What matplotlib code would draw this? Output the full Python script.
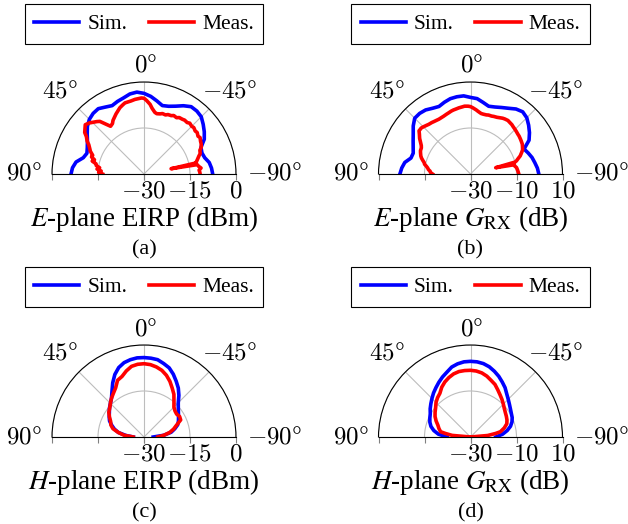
import numpy as np
import matplotlib
matplotlib.use("Agg")
import matplotlib.pyplot as plt

plt.rcParams["font.family"] = ["Liberation Serif", "DejaVu Serif"]
plt.rcParams["mathtext.fontset"] = "cm"

# angles in degrees (0 = broadside, +90 = left)
ang5 = [90, 85, 80, 75, 70, 65, 60, 55, 50, 45, 40, 35, 30, 25, 20, 15, 10, 5, 0,
        -5, -10, -15, -20, -25, -30, -35, -40, -45, -50, -55, -60, -65, -70, -75,
        -80, -85, -90]

# (a) E-plane EIRP (dBm)
a_sim = [-6.2, -6.6, -7.5, -9.5, -10.2, -9.6, -8.7, -7.4, -5.9, -4.8, -4.2, -4.0,
         -4.8, -5.4, -4.8, -4.3, -3.5, -3.2, -3.7, -4.6, -5.8, -6.9, -6.5, -5.6,
         -4.3, -3.2, -3.2, -3.6, -4.8, -6.0, -7.3, -9.5, -9.9, -9.5, -8.4, -7.9, -7.6]
a_meas_ang = [90, 88, 86, 84, 82, 80, 78, 76, 74, 72, 70, 67, 65, 62, 60, 57, 55, 52,
              50, 47, 45, 42, 40, 37, 35, 32, 30, 27, 25, 22, 20, 17, 15, 12, 10, 7,
              5, 2, 0, -2, -5, -7, -10, -12, -15, -17, -20, -22, -25, -27, -30, -32,
              -35, -37, -40, -42, -45, -47, -50, -52, -55, -57, -60, -62, -65, -67,
              -70, -72, -75, -77, -78, -79, -80, -82, -84, -86, -88, -90]
a_meas = [-16.5, -15.2, -16.0, -14.6, -15.4, -14.2, -14.0, -12.6, -13.2, -12.0, -12.2,
          -11.0, -10.5, -9.6, -8.6, -7.6, -6.4, -5.6, -5.0, -5.6, -6.2, -7.0, -7.6,
          -9.8, -11.0, -10.6, -9.8, -9.0, -8.4, -7.6, -7.0, -6.4, -6.0, -5.9, -5.8,
          -5.5, -5.4, -5.2, -5.3, -6.0, -7.2, -8.4, -9.6, -9.9, -9.7, -9.4, -9.5,
          -9.1, -9.0, -8.6, -8.8, -8.3, -8.2, -8.0, -8.1, -7.7, -8.0, -7.8, -8.2,
          -8.0, -8.5, -8.2, -8.7, -8.9, -9.4, -10.2, -10.5, -11.2, -12.0, -12.5,
          -12.6, -21.0, -12.4, -12.0, -11.3, -12.0, -11.8, -11.7]

# (b) E-plane G_RX (dB)
b_sim = [0.7, 0.0, -1.0, -3.2, -3.5, -2.5, -1.2, 0.4, 2.5, 4.3, 4.4, 4.0, 3.0, 2.4,
         3.2, 3.9, 4.1, 4.1, 3.3, 2.9, 1.6, 0.5, 1.0, 1.9, 3.0, 4.5, 5.3, 4.6, 3.0,
         1.3, -0.6, -4.3, -3.3, -2.3, -1.6, -0.8, -0.3]
b_meas_ang = [90, 88, 86, 84, 82, 80, 78, 76, 74, 72, 70, 67, 65, 62, 60, 57, 55, 52,
              50, 47, 45, 42, 40, 37, 35, 32, 30, 27, 25, 22, 20, 17, 15, 12, 10, 7,
              5, 2, 0, -2, -5, -7, -10, -12, -15, -17, -20, -22, -25, -27, -30, -32,
              -35, -37, -40, -42, -45, -47, -50, -52, -55, -57, -60, -62, -65, -67,
              -70, -72, -74, -75, -76, -78, -80, -82, -84, -86, -88, -90]
b_meas = [-13.5, -12.6, -12.4, -11.6, -11.2, -10.5, -9.6, -9.2, -8.4, -7.6, -7.0,
          -6.4, -6.0, -5.8, -5.3, -4.0, -3.0, -1.8, -0.8, -0.7, -1.0, -1.5, -1.8,
          -2.0, -2.2, -2.4, -2.5, -2.4, -2.3, -2.0, -1.8, -1.4, -1.2, -1.0, -0.8,
          -0.6, -0.4, -0.5, -0.7, -1.2, -2.0, -2.6, -3.3, -3.4, -3.4, -3.2, -3.2,
          -3.0, -2.8, -2.5, -2.0, -1.8, -1.6, -1.8, -2.0, -2.3, -2.6, -2.8, -3.1,
          -3.2, -3.5, -3.7, -4.0, -4.4, -5.0, -5.8, -7.0, -8.2, -9.2, -10.0, -18.7,
          -10.6, -10.4, -9.8, -9.6, -9.4, -9.2, -9.0]

# (c) H-plane EIRP (dBm)
c_sim = [-26.5, -24.0, -21.5, -20.0, -18.8, -17.6, -16.9, -16.2, -15.3, -14.5,
         -13.5, -11.8, -9.6, -7.5, -5.9, -4.9, -4.4, -4.1, -4.1, -4.2, -4.4, -5.2,
         -6.0, -7.4, -9.0, -10.5, -12.3, -14.2, -15.4, -16.3, -17.0, -17.6, -18.3,
         -19.6, -21.0, -23.5, -27.0]
c_meas = [-26.5, -23.5, -21.5, -19.5, -18.5, -18.0, -17.0, -16.0, -15.4, -14.5,
          -13.5, -12.6, -11.5, -9.6, -9.0, -7.7, -6.6, -6.2, -6.1, -6.3, -6.8, -7.5,
          -8.6, -10.0, -11.6, -13.0, -14.8, -16.2, -16.8, -17.0, -16.6, -16.8, -18.7,
          -20.0, -21.5, -23.5, -25.5]

# (d) H-plane G_RX (dB)
d_sim = [-19.8, -16.0, -13.8, -12.2, -11.2, -10.5, -9.8, -8.6, -7.5, -6.3, -5.0,
         -3.8, -2.5, -1.2, 0.0, 1.5, 2.3, 2.8, 2.9, 2.8, 2.4, 1.6, 0.4, -0.9, -2.4,
         -3.8, -5.5, -6.8, -7.9, -8.8, -9.5, -10.0, -10.8, -12.0, -13.8, -16.0, -19.0]
d_meas_ang = [90, 85, 82, 80, 75, 70, 65, 60, 55, 50, 45, 40, 35, 30, 25, 20, 15, 10,
              5, 0, -5, -10, -15, -20, -25, -30, -35, -40, -45, -50, -55, -60, -65,
              -70, -75, -80, -82, -85, -90]
d_meas = [-30.0, -22.0, -19.0, -16.8, -15.8, -14.9, -13.5, -12.2, -11.2, -10.2, -8.8,
          -7.7, -6.8, -5.0, -3.6, -2.5, -1.6, -1.1, -1.0, -1.0, -1.2, -1.7, -2.6,
          -3.8, -4.8, -6.3, -7.6, -8.7, -9.8, -10.8, -11.5, -12.0, -12.5, -13.2,
          -14.8, -16.8, -19.0, -22.5, -30.0]

panels = [
    ("a", a_sim, a_meas_ang, a_meas, [-30, -15, 0], r"$E$-plane EIRP (dBm)"),
    ("b", b_sim, b_meas_ang, b_meas, [-30, -10, 10], r"$E$-plane $G_{\mathrm{RX}}$ (dB)"),
    ("c", c_sim, ang5, c_meas, [-30, -15, 0], r"$H$-plane EIRP (dBm)"),
    ("d", d_sim, d_meas_ang, d_meas, [-30, -10, 10], r"$H$-plane $G_{\mathrm{RX}}$ (dB)"),
]

W, H = 628, 524
fig = plt.figure(figsize=(W / 100, H / 100), dpi=100)

centers = [(144, 174), (470.5, 174), (144, 437), (470.5, 437)]
R = 92


def fx(px):
    return px / W


def fy(py):
    return 1 - py / H


for (tag, sim, mang, meas, rt, label), (cx, cy) in zip(panels, centers):
    # square box, the half disc sits in its middle
    ax = fig.add_axes([fx(cx - R), fy(cy + 0.5 * R), 2 * R / W, 2 * R / H],
                      projection="polar")
    ax.set_theta_zero_location("N")
    ax.set_thetamin(-90)
    ax.set_thetamax(90)
    ax.set_ylim(rt[0], rt[-1])
    ax.set_yticks(rt)
    ax.set_yticklabels([])
    ax.set_thetagrids([90, 45, 0, -45, -90], [""] * 5)
    ax.tick_params(axis="x", direction="out", length=4, width=0.6, colors="#808080")
    ax.grid(color="#bdbdbd", linewidth=0.8)
    for s in ax.spines.values():
        s.set_linewidth(0.8)
        s.set_color("black")

    l1, = ax.plot(np.deg2rad(ang5), sim, color="#0000ff", lw=2.6, label="Sim.")
    l2, = ax.plot(np.deg2rad(mang), meas, color="#ff0000", lw=2.6, label="Meas.")

    # radial ticks along the baseline
    for side in (90, -90):
        ax.plot([np.deg2rad(side)] * 3, rt, ls="none", marker=3, ms=4,
                color="#808080", mew=0.8, clip_on=False)
    for v in rt:
        ax.annotate(r"$%g$" % v, xy=(np.deg2rad(-90), v), xytext=(0, -5),
                    textcoords="offset points", ha="center", va="top", fontsize=18)

    # angle labels
    fig.text(fx(cx + 1), fy(cy - 108), r"$0\degree$", ha="center", va="center", fontsize=18)
    fig.text(fx(cx - 84), fy(cy - 83), r"$45\degree$", ha="center", va="center", fontsize=18)
    fig.text(fx(cx + 85), fy(cy - 83), r"$-45\degree$", ha="center", va="center", fontsize=18)
    fig.text(fx(cx - 102), fy(cy), r"$90\degree$", ha="right", va="center", fontsize=18)
    fig.text(fx(cx + 103), fy(cy), r"$-90\degree$", ha="left", va="center", fontsize=18)

    fig.text(fx(cx), fy(cy + 45), label, ha="center", va="center",
             fontsize=19.5, math_fontfamily="stix")
    fig.text(fx(cx), fy(cy + 76), "(%s)" % tag, ha="center", va="center", fontsize=16)

    leg = fig.legend(handles=[l1, l2], loc="center", ncol=2,
                     bbox_to_anchor=(fx(cx), fy(cy - 150)), fontsize=15.5,
                     frameon=True, fancybox=False, edgecolor="black", framealpha=1,
                     handlelength=2.1, handletextpad=0.37, columnspacing=1.0,
                     borderpad=0.45)
    leg.get_frame().set_linewidth(0.8)

fig.savefig("out.png", dpi=100)
